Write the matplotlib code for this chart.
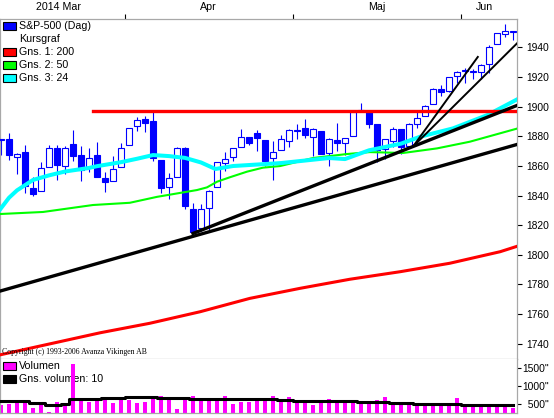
import numpy as np
import matplotlib
matplotlib.use("Agg")
import matplotlib.pyplot as plt
from matplotlib.patches import Rectangle

plt.rcParams['font.family'] = ['Liberation Sans', 'DejaVu Sans']

# trading days, index 0 = 2014-03-10 ... 64 = 2014-06-10
opens = [1877.86, 1878.26, 1866.15, 1869.06, 1845.07, 1842.81, 1858.92, 1872.25, 1860.09, 1874.53,
         1867.67, 1859.48, 1867.09, 1852.11, 1850.07, 1859.16, 1873.96, 1886.61, 1891.43, 1890.25,
         1863.92, 1845.48, 1852.64, 1872.28, 1830.65, 1818.18, 1831.45, 1846.01, 1861.73, 1865.79,
         1872.57, 1879.32, 1881.97, 1877.72, 1865.00, 1870.78, 1877.10, 1884.39, 1885.30, 1879.45,
         1883.69, 1868.53, 1877.39, 1875.27, 1880.03, 1896.75, 1897.13, 1888.16, 1871.19, 1876.66,
         1884.88, 1873.34, 1888.19, 1893.32, 1902.01, 1911.77, 1910.60, 1920.33, 1923.87, 1923.07,
         1923.06, 1928.52, 1942.41, 1948.97, 1950.34]
highs = [1877.87, 1882.35, 1868.38, 1874.40, 1852.44, 1862.30, 1873.76, 1874.14, 1873.49, 1883.97,
         1873.34, 1871.87, 1875.92, 1855.55, 1866.63, 1875.18, 1885.84, 1893.17, 1893.80, 1897.28,
         1864.04, 1854.95, 1872.43, 1872.53, 1835.07, 1834.19, 1844.02, 1862.31, 1869.63, 1871.89,
         1884.89, 1879.75, 1884.06, 1877.72, 1877.01, 1880.60, 1885.20, 1888.59, 1891.33, 1885.51,
         1883.69, 1878.83, 1889.07, 1878.57, 1897.13, 1902.17, 1897.13, 1888.16, 1878.28, 1886.00,
         1884.88, 1888.80, 1896.33, 1901.26, 1912.28, 1914.46, 1920.03, 1924.03, 1925.88, 1925.07,
         1928.63, 1941.74, 1949.44, 1955.55, 1950.86]
lows = [1867.04, 1863.88, 1854.38, 1841.86, 1839.57, 1842.81, 1858.92, 1850.35, 1854.63, 1863.46,
        1849.69, 1855.96, 1852.56, 1842.11, 1850.07, 1859.16, 1873.96, 1883.79, 1882.65, 1863.26,
        1841.48, 1837.49, 1852.38, 1830.87, 1814.36, 1815.80, 1816.29, 1846.01, 1856.72, 1863.18,
        1872.57, 1873.91, 1870.24, 1859.70, 1850.61, 1870.78, 1872.69, 1878.04, 1878.50, 1866.77,
        1867.72, 1859.79, 1870.05, 1867.02, 1880.03, 1896.06, 1885.77, 1862.36, 1864.82, 1872.42,
        1868.14, 1873.34, 1885.39, 1893.32, 1902.01, 1907.30, 1909.82, 1915.87, 1915.98, 1918.79,
        1918.60, 1922.93, 1942.41, 1947.16, 1944.64]
closes = [1877.17, 1867.63, 1868.20, 1846.34, 1841.13, 1858.83, 1872.25, 1860.77, 1872.01, 1866.52,
          1857.44, 1865.62, 1852.56, 1849.04, 1857.62, 1872.34, 1885.52, 1890.90, 1888.77, 1865.09,
          1845.04, 1851.96, 1872.18, 1833.08, 1815.69, 1830.61, 1842.98, 1862.31, 1864.85, 1871.89,
          1879.55, 1875.39, 1878.61, 1863.40, 1869.43, 1878.33, 1883.95, 1883.68, 1881.14, 1884.66,
          1867.72, 1878.21, 1875.63, 1878.48, 1896.65, 1897.45, 1888.53, 1870.85, 1877.86, 1885.08,
          1872.83, 1888.03, 1892.49, 1900.53, 1911.91, 1909.78, 1920.03, 1923.57, 1924.97, 1924.24,
          1927.88, 1940.46, 1949.44, 1951.27, 1950.79]

volume = [492, 500, 537, 583, 398, 537, 287, 556, 519, 1611,
          676, 565, 648, 648, 537, 648, 620, 546, 565, 704,
          722, 630, 370, 704, 731, 593, 676, 630, 722, 509,
          574, 574, 593, 583, 722, 565, 694, 537, 537, 472,
          556, 648, 556, 537, 537, 509, 509, 611, 694, 519,
          509, 472, 444, 454, 537, 509, 454, 676, 472, 491,
          482, 509, 509, 500, 398]
vol_avg = [583, 583, 583, 583, 546, 546, 491, 491, 500, 657,
           639, 639, 639, 676, 676, 676, 704, 704, 704, 704,
           685, 685, 685, 685, 657, 657, 657, 657, 657, 650,
           650, 650, 650, 650, 650, 630, 630, 583, 583, 583,
           583, 583, 583, 583, 583, 556, 556, 556, 556, 537,
           537, 537, 509, 509, 509, 509, 509, 509, 491, 491,
           491, 491, 491, 491, 472]

# moving averages (day index, value)
ma200_x = [-0.2, 12.4, 18.6, 24.9, 31.1, 37.4, 43.6, 49.9, 56.1, 62.4, 64.6]
ma200_y = [1732.4, 1747.4, 1753.8, 1761.6, 1770.6, 1777.4, 1783.5, 1788.6, 1794.3, 1802.1, 1805.9]
ma50_x = [-0.2, 5.25, 11.5, 16.1, 19.5, 24.5, 25.75, 27, 28.6, 30.75, 32.75, 34.9, 39, 43.25,
          46.1, 50.25, 54.5, 58.6, 64.6]
ma50_y = [1827.5, 1828.9, 1833.6, 1835.1, 1839.1, 1843.7, 1845.5, 1849.3, 1852.3, 1856.1, 1858.8,
          1859.9, 1865.3, 1868.0, 1869.3, 1868.7, 1871.8, 1876.3, 1885.3]
ma24_x = [-0.2, 1, 2, 4, 6, 8, 11, 12, 15, 17, 19, 21, 23, 25, 26.8, 29, 35, 41, 43, 46, 50,
          52.4, 56.5, 60.8, 64.6]
ma24_y = [1830.0, 1838.5, 1843.5, 1850.5, 1853.6, 1856.2, 1858.6, 1859.8, 1862.5, 1864.8, 1867.3,
          1866.6, 1865.4, 1862.3, 1857.9, 1859.9, 1861.9, 1865.3, 1864.6, 1870.5, 1875.0, 1879.7,
          1885.3, 1894.3, 1905.1]

# drawn trend lines (day index, value)
resist_x, resist_y = [11.5, 64.6], [1897.0, 1897.0]
trend_long_x, trend_long_y = [-0.2, 64.6], [1775.4, 1874.6]
trend_apr_x, trend_apr_y = [24.0, 64.6], [1814.4, 1901.0]
trend_fast1_x, trend_fast1_y = [51.5, 59.6], [1873.0, 1933.5]
trend_fast2_x, trend_fast2_y = [51.5, 64.6], [1873.0, 1943.2]

month_bounds = [15.5, 36.5, 57.5]
month_pos = [7.25, 25.9, 47.0, 60.4]
month_names = ['2014 Mar', 'Apr', 'Maj', 'Jun']
price_ticks = list(range(1740, 1941, 20))
vol_ticks = [500, 1000, 1500]
vol_labels = ['  500"', '1000"', '1500"']

BLUE = '#0000ff'
GRID = '#a8a8a8'
W, H = 554, 418

days = np.arange(len(closes))
opens = np.array(opens)
closes = np.array(closes)

fig = plt.figure(figsize=(W / 100, H / 100), dpi=100)
ax = fig.add_axes([0, (H - 359) / H, 517 / W, 340 / H])
axv = fig.add_axes([0, (H - 413) / H, 517 / W, 54 / H])

# candles
up = closes >= opens
body_lo = np.minimum(opens, closes)
body_h = np.maximum(np.abs(closes - opens), 0.4)
ax.vlines(days, lows, highs, color=BLUE, lw=0.8, zorder=2)
ax.bar(days, body_h, bottom=body_lo, width=0.7,
       color=np.where(up, 'white', BLUE), edgecolor=BLUE, lw=0.8, zorder=3)

ax.plot(ma200_x, ma200_y, color='#ff0000', lw=2.2, zorder=4)
ax.plot(ma50_x, ma50_y, color='#00ff00', lw=1.5, zorder=4)
ax.plot(ma24_x, ma24_y, color='#00ffff', lw=2.9, zorder=4)
ax.plot(resist_x, resist_y, color='#ff0000', lw=2.4, zorder=5)
ax.plot(trend_long_x, trend_long_y, color='black', lw=2.4, zorder=6)
ax.plot(trend_apr_x, trend_apr_y, color='black', lw=2.4, zorder=6)
ax.plot(trend_fast1_x, trend_fast1_y, color='black', lw=1.4, zorder=6)
ax.plot(trend_fast2_x, trend_fast2_y, color='black', lw=1.4, zorder=6)

ax.set_xlim(-0.125, 64.5)
ax.set_ylim(1729.7, 1959.1)
ax.yaxis.tick_right()
ax.set_yticks(price_ticks)
ax.tick_params(axis='y', direction='out', length=3.5, width=0.8, pad=3, labelsize=7.4)
ax.xaxis.tick_top()
ax.set_xticks(month_bounds)
ax.set_xticklabels([])
ax.set_xticks(month_pos, month_names, minor=True)
ax.tick_params(axis='x', which='major', direction='out', length=3.5, width=0.8)
ax.tick_params(axis='x', which='minor', length=0, pad=5, labelsize=7.7)
for s in ax.spines.values():
    s.set_color(GRID)
    s.set_linewidth(0.9)

# volume
axv.bar(days, volume, width=0.5, color='#ff00ff', zorder=2)
axv.plot(days, vol_avg, drawstyle='steps-mid', color='black', lw=2.2, zorder=3)
axv.set_xlim(-0.125, 64.5)
axv.set_ylim(258, 1750)
axv.set_xticks([])
axv.yaxis.tick_right()
axv.set_yticks(vol_ticks, vol_labels)
axv.tick_params(axis='y', direction='out', length=3, width=0.8, pad=0.5, labelsize=7.4)
axv.spines['top'].set_visible(False)
for s in ['left', 'right', 'bottom']:
    axv.spines[s].set_color(GRID)
    axv.spines[s].set_linewidth(0.9)


def legend_row(a, y_px, label, color):
    if color is not None:
        a.add_patch(Rectangle((3.5 / W, 1 - (y_px + 3.8) / H), 12 / W, 7.5 / H,
                              transform=fig.transFigure, facecolor=color,
                              edgecolor='black', lw=0.8, clip_on=False, zorder=0.6))
    a.text(19 / W, 1 - y_px / H, label, transform=fig.transFigure,
           ha='left', va='center', fontsize=7.7, zorder=0.5)


legend_row(ax, 26, 'S&P-500 (Dag)', BLUE)
legend_row(ax, 39, 'Kursgraf', None)
legend_row(ax, 52, 'Gns. 1: 200', '#ff0000')
legend_row(ax, 65, 'Gns. 2: 50', '#00ff00')
legend_row(ax, 78, 'Gns. 3: 24', '#00ffff')
legend_row(axv, 366, 'Volumen', '#ff00ff')
legend_row(axv, 379, 'Gns. volumen: 10', 'black')

ax.text(2 / W, 1 - 352.5 / H, 'Copyright (c) 1993-2006 Avanza Vikingen AB',
        transform=fig.transFigure, ha='left', va='center', fontsize=5.6,
        family='Liberation Serif', zorder=7)

ax.set_xlim(-0.125, 64.5)
ax.set_ylim(1729.7, 1959.1)

fig.savefig('out.png', dpi=100)
